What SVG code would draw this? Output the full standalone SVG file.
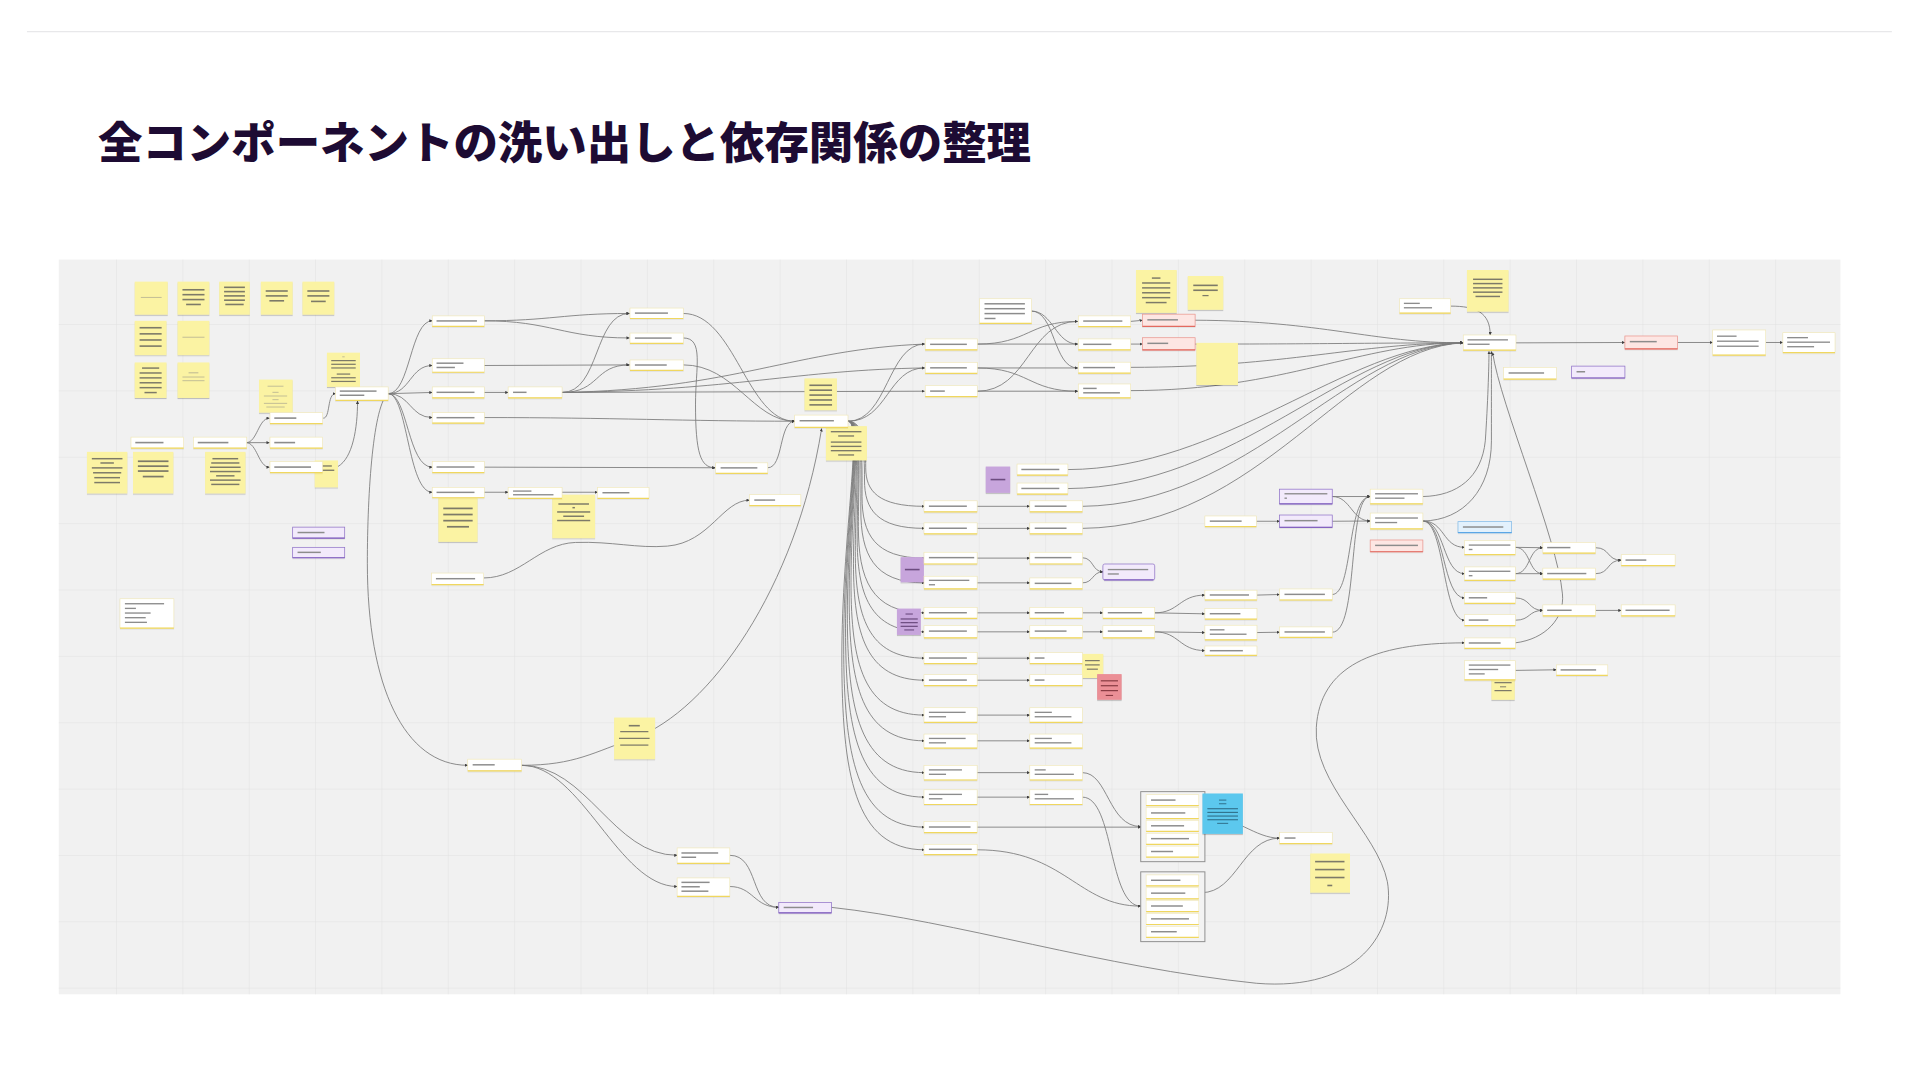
<svg xmlns="http://www.w3.org/2000/svg" width="1920" height="1080" viewBox="0 0 1920 1080">
<defs>
<style>
.cb{fill:#fff;stroke:#f2e9b6;stroke-width:.5}
.cy{stroke:#f0d75e;stroke-width:1;fill:none}
.br{fill:#8c8c8c}
.st{fill:#fbf3a3;filter:url(#sh)}
.sb{fill:#7d7a68}
.sf{fill:#c2bd95}
.ps{fill:#c7a5dc;filter:url(#sh)}
.psb{fill:#6d4c80}
.rs{fill:#eb8f96;filter:url(#sh)}
.rsb{fill:#8a3c44}
.bs{fill:#5cc8ee;filter:url(#sh)}
.bsb{fill:#2f6f8a}
.pc{fill:#f2eafb;stroke:#9275c9;stroke-width:.6}
.py{stroke:#8462c0;stroke-width:1;fill:none}
.rc{fill:#fde6e3;stroke:#ec9a92;stroke-width:.6}
.ry{stroke:#e36b60;stroke-width:1;fill:none}
.bc{fill:#e3f1fc;stroke:#86bdea;stroke-width:.6}
.by{stroke:#5aa6e6;stroke-width:1;fill:none}
.gf{fill:#f3f3f3;stroke:#8f8f8f;stroke-width:.8}
.e{fill:none;stroke:#7a7a7a;stroke-width:.7;marker-end:url(#ah)}
.en{fill:none;stroke:#7a7a7a;stroke-width:.7}
.card{filter:url(#sh2)}
</style>
<filter id="sh" x="-20%" y="-20%" width="140%" height="150%"><feDropShadow dx="0" dy="0.9" stdDeviation="0.6" flood-color="#000" flood-opacity="0.22"/></filter>
<filter id="sh2" x="-10%" y="-30%" width="120%" height="170%"><feDropShadow dx="0" dy="0.4" stdDeviation="0.4" flood-color="#000" flood-opacity="0.12"/></filter>
<marker id="ah" viewBox="0 0 6 6" refX="5.5" refY="3" markerWidth="2.6" markerHeight="2.6" markerUnits="userSpaceOnUse" orient="auto"><path d="M0,0 L6,3 L0,6 z" fill="#3f3f3f"/></marker>
<pattern id="grid" patternUnits="userSpaceOnUse" x="94.7" y="264.6" width="54.2" height="54.2"><path d="M0,0 H54.2 M0,0 V54.2" stroke="#e0e0e0" stroke-width="0.8" fill="none"/></pattern>
</defs>
<rect width="1920" height="1080" fill="#ffffff"/>
<g transform="scale(1.22449)">
<line x1="22" y1="25.8" x2="1545" y2="25.8" stroke="#e8e8ea" stroke-width="1"/>
<text x="80" y="129.5" font-family="'Noto Sans CJK JP','Noto Sans',sans-serif" font-size="36" font-weight="900" fill="#1d0b33" textLength="762" lengthAdjust="spacingAndGlyphs">全コンポーネントの洗い出しと依存関係の整理</text>
<rect x="48" y="212" width="1455" height="600" fill="#f1f1f1"/>
<rect x="48" y="212" width="1455" height="600" fill="url(#grid)"/>

<g id="connectors">
<path class="e" d="M201,361.5 C210,361.5 211,341.5 220,341.5"/>
<path class="e" d="M201,361.5 L220,361.5"/>
<path class="e" d="M201,361.5 C210,361.5 211,381.5 220,381.5"/>
<path class="e" d="M264,341.5 C270,341.5 267,321.5 274,321.5"/>
<path class="e" d="M276,381 C288,374 292,350 292,327.5"/>
<path class="e" d="M317,321.5 C335,321.5 335,262 353,262"/>
<path class="e" d="M317,321.5 C335,321.5 335,298.5 353,298.5"/>
<path class="e" d="M317,321.5 L353,320.5"/>
<path class="e" d="M317,321.5 C335,321.5 335,341 353,341"/>
<path class="e" d="M317,321.5 C333,321.5 333,381.5 353,381.5"/>
<path class="e" d="M317,321.5 C333,321.5 333,402 353,402"/>
<path class="e" d="M317,321.5 C305,330 300,400 300,460 C300,560 330,625 382,625"/>
<path class="e" d="M395,262 C450,262 460,256 514,256"/>
<path class="e" d="M395,262 C450,262 460,276 514,276"/>
<path class="e" d="M395,298.5 L514,298"/>
<path class="e" d="M395,320.5 L415,320.5"/>
<path class="e" d="M459,320.5 C490,320.5 485,256 514,256"/>
<path class="e" d="M459,320.5 C490,320.5 485,298 514,298"/>
<path class="e" d="M459,320.5 C600,318 650,285 755,281"/>
<path class="e" d="M459,320.5 C600,319 650,302 755,300.5"/>
<path class="e" d="M459,320.5 L755,319.5"/>
<path class="e" d="M395,341 C500,341 560,344 649,344"/>
<path class="e" d="M395,381.5 L584,382"/>
<path class="e" d="M558,256 C600,256 610,344 649,344"/>
<path class="e" d="M558,276 C575,276 568,300 568,330 C568,370 572,382 584,382"/>
<path class="e" d="M558,298 C600,298 615,344 649,344"/>
<path class="e" d="M627,382 C640,382 636,344 649,344"/>
<path class="e" d="M395,402 L415,402"/>
<path class="e" d="M459,402 L488,402"/>
<path class="e" d="M395,472 C425,472 440,444 470,443 C500,442 520,448 545,446 C580,443 590,408.5 612,408.5"/>
<path class="e" d="M426,625 C470,625 485,614 518,603 C580,580 650,480 671,350"/>
<path class="e" d="M426,625 C480,625 500,698.5 553,698.5"/>
<path class="e" d="M426,625 C475,625 505,724 553,724"/>
<path class="e" d="M596,698.5 C620,698.5 612,741 636,741"/>
<path class="e" d="M596,724 C615,724 616,741 636,741"/>
<path class="e" d="M679,741 C780,752 900,790 1026,803 C1110,810 1140,760 1133,720 C1125,680 1072,640 1075,594 C1078,545 1120,525 1196,525"/>
<path class="e" d="M692.5,344 C725,344 725,281 755,281"/>
<path class="e" d="M692.5,344 C725,344 725,300.5 755,300.5"/>
<path class="e" d="M692.5,344 C705,344 707,363 707,382 C707,401 717,413.5 755,413.5"/>
<path class="e" d="M692.5,344 C705,344 706,368 706,392 C706,416 716,431.5 755,431.5"/>
<path class="e" d="M692.5,344 C705,344 704,375 704,405.5 C704,436 714,455.8 755,455.8"/>
<path class="e" d="M692.5,344 C705,344 703,380 703,416.5 C703,452 713,476 755,476"/>
<path class="e" d="M692.5,344 C705,344 701,387 701,430 C701,472 711,500.5 755,500.5"/>
<path class="e" d="M692.5,344 C705,344 700,391 700,438.5 C700,485 710,516 755,516"/>
<path class="e" d="M692.5,344 C705,344 698.5,397 698.5,450.5 C698.5,502.5 708.5,537.5 755,537.5"/>
<path class="e" d="M692.5,344 C705,344 697,402 697,460 C697,517 707,555.5 755,555.5"/>
<path class="e" d="M692.5,344 C705,344 695,410 695,476 C695,541 705,584 755,584"/>
<path class="e" d="M692.5,344 C705,344 693.5,416 693.5,487.5 C693.5,558 703.5,605 755,605"/>
<path class="e" d="M692.5,344 C705,344 692,423 692,502 C692,579 702,631 755,631"/>
<path class="e" d="M692.5,344 C705,344 690.5,428 690.5,513 C690.5,596 700.5,651 755,651"/>
<path class="e" d="M692.5,344 C705,344 689,435 689,526 C689,616 699,675.5 755,675.5"/>
<path class="e" d="M692.5,344 C705,344 687.5,440 687.5,536.5 C687.5,631 697.5,694 755,694"/>
<path class="e" d="M798,281 C840,281 840,262.5 880,262.5"/>
<path class="e" d="M798,281 L880,281"/>
<path class="e" d="M798,300.5 L880,300.5"/>
<path class="e" d="M798,300.5 C840,300.5 840,319.5 880,319.5"/>
<path class="e" d="M798,319.5 C840,319.5 840,262.5 880,262.5"/>
<path class="e" d="M798,319.5 L880,319.5"/>
<path class="e" d="M842,254 C860,254 862,281 880,281"/>
<path class="e" d="M842,254 C862,254 860,300.5 880,300.5"/>
<path class="e" d="M923,262.5 L933,261.6"/>
<path class="e" d="M923,281 L933,281"/>
<path class="e" d="M976,261.5 C1080,262 1120,280 1195,280"/>
<path class="e" d="M976,281 C1080,281 1120,280 1195,280"/>
<path class="e" d="M923,300 C1050,300 1110,280 1195,280"/>
<path class="e" d="M923,319 C1050,319 1110,280 1195,280"/>
<path class="e" d="M872,383.5 C1000,383 1100,282 1195,280"/>
<path class="e" d="M872,399 C1010,398 1100,282 1195,280"/>
<path class="e" d="M884,413.5 C1020,412 1100,283 1195,280"/>
<path class="e" d="M884,431.5 C1030,430 1100,284 1195,280"/>
<path class="e" d="M798,413.5 L841,413.5"/>
<path class="e" d="M798,431.5 L841,431.5"/>
<path class="e" d="M798,455.8 L841,455.8"/>
<path class="e" d="M798,476 L841,476"/>
<path class="e" d="M798,500.5 L841,500.5"/>
<path class="e" d="M798,516 L841,516"/>
<path class="e" d="M798,537.5 L841,537.5"/>
<path class="e" d="M798,555.5 L841,555.5"/>
<path class="e" d="M798,584 L841,584"/>
<path class="e" d="M798,605 L841,605"/>
<path class="e" d="M798,631 L841,631"/>
<path class="e" d="M798,651 L841,651"/>
<path class="e" d="M884,455.5 C893,455.5 892,467 900.7,467"/>
<path class="e" d="M884,476 C893,476 892,467 900.7,467"/>
<path class="e" d="M884,500.5 L900.7,500.5"/>
<path class="e" d="M884,516 L900.7,516"/>
<path class="e" d="M943,500.5 C963,500.5 963,486 984,486"/>
<path class="e" d="M943,500.5 L984,501.3"/>
<path class="e" d="M943,516 L984,516.6"/>
<path class="e" d="M943,516 C963,516 963,531.3 984,531.3"/>
<path class="e" d="M1026.5,486 L1045,485.5"/>
<path class="e" d="M1026.5,516.6 L1045,516.3"/>
<path class="e" d="M1088,485.5 C1105,485.5 1100,405.5 1119,405.5"/>
<path class="e" d="M1088,516.3 C1110,516 1100,405.5 1119,405.5"/>
<path class="e" d="M1026,425.7 L1045,425.7"/>
<path class="e" d="M1088,405.5 L1119,405.5"/>
<path class="e" d="M1088,405.5 C1103,405.5 1104,425.5 1119,425.5"/>
<path class="e" d="M1088,425.7 L1119,425.5"/>
<path class="e" d="M1162,405.5 C1190,405 1210,390 1213,360 C1215,330 1216,300 1216,287"/>
<path class="e" d="M1162,425.5 C1195,425 1218,400 1218,360 C1218,320 1218,300 1218,287"/>
<path class="e" d="M1162,425.5 C1180,425.5 1178,447 1196,447"/>
<path class="e" d="M1162,425.5 C1180,425.5 1178,468.5 1196,468.5"/>
<path class="e" d="M1162,425.5 C1180,425.5 1178,488.3 1196,488.3"/>
<path class="e" d="M1162,425.5 C1180,425.5 1178,506.5 1196,506.5"/>
<path class="e" d="M1237.5,525 C1262,522 1278,505 1276,485 C1272,440 1225,330 1219,288"/>
<path class="e" d="M1237.5,447 L1260,447.3"/>
<path class="e" d="M1237.5,447 C1250,447 1248,468.5 1260,468.5"/>
<path class="e" d="M1237.5,468.5 C1250,468.5 1248,447.3 1260,447.3"/>
<path class="e" d="M1237.5,468.5 L1260,468.5"/>
<path class="e" d="M1303,447.3 C1315,447.3 1312,457.5 1324,457.5"/>
<path class="e" d="M1303,468.5 C1315,468.5 1312,457.5 1324,457.5"/>
<path class="e" d="M1237.5,488.3 C1250,488.3 1248,498.5 1260,498.5"/>
<path class="e" d="M1237.5,506.5 C1250,506.5 1248,498.5 1260,498.5"/>
<path class="e" d="M1303,498.5 L1324,498.5"/>
<path class="e" d="M1237.5,547.5 L1271,547"/>
<path class="e" d="M1184.7,250 C1205,250 1217,255 1217,273.6"/>
<path class="e" d="M1238,280 L1327,279.7"/>
<path class="e" d="M1370,279.7 L1398.7,279.7"/>
<path class="e" d="M1442,279.7 L1456,279.7"/>
<path class="e" d="M884,631 C905,631 905,675 931.6,675"/>
<path class="e" d="M798,675.5 L931.6,675.5"/>
<path class="e" d="M884,651 C910,651 905,740 931.6,740"/>
<path class="e" d="M798,694 C870,694 880,740 931.6,740"/>
<path class="e" d="M980,664 C1010,667 1025,684.5 1045,684.5"/>
<path class="e" d="M981.4,729 C1010,729 1015,684.5 1045,684.5"/>
</g>

<g id="stickies">
<g id="s1" transform="translate(110,230)"><rect class="st" width="27" height="27"/><rect class="sf" x="5" y="12.5" width="17" height="0.8"/></g>
<g id="s2" transform="translate(145,230)"><rect class="st" width="26" height="27"/><rect class="sb" x="4" y="6" width="18" height="1.3"/><rect class="sb" x="4" y="10" width="18" height="1.3"/><rect class="sb" x="4" y="14" width="18" height="1.3"/><rect class="sb" x="7" y="18" width="12" height="1.3"/></g>
<g id="s3" transform="translate(179,230)"><rect class="st" width="25" height="27"/><rect class="sb" x="4" y="4" width="17" height="1.3"/><rect class="sb" x="4" y="7.5" width="17" height="1.3"/><rect class="sb" x="4" y="11" width="17" height="1.3"/><rect class="sb" x="4" y="14.5" width="17" height="1.3"/><rect class="sb" x="5" y="18" width="15" height="1.3"/></g>
<g id="s4" transform="translate(213,230)"><rect class="st" width="26" height="27"/><rect class="sb" x="4" y="7" width="18" height="1.3"/><rect class="sb" x="4" y="11" width="18" height="1.3"/><rect class="sb" x="7" y="15" width="12" height="1.3"/></g>
<g id="s5" transform="translate(247,230)"><rect class="st" width="26" height="27"/><rect class="sb" x="4" y="7" width="18" height="1.3"/><rect class="sb" x="4" y="11" width="18" height="1.3"/><rect class="sb" x="7" y="15.5" width="12" height="1.3"/></g>
<g id="s6" transform="translate(110,262)"><rect class="st" width="26" height="28"/><rect class="sb" x="4" y="5" width="18" height="1.3"/><rect class="sb" x="4" y="10" width="18" height="1.3"/><rect class="sb" x="4" y="15" width="18" height="1.3"/><rect class="sb" x="4" y="20" width="18" height="1.3"/></g>
<g id="s7" transform="translate(145,262)"><rect class="st" width="26" height="28"/><rect class="sf" x="4" y="13" width="18" height="0.8"/></g>
<g id="s8" transform="translate(110,296)"><rect class="st" width="26" height="29"/><rect class="sb" x="6" y="4" width="14" height="1.2"/><rect class="sb" x="4" y="8" width="18" height="1.2"/><rect class="sb" x="4" y="12" width="18" height="1.2"/><rect class="sb" x="4" y="16" width="18" height="1.2"/><rect class="sb" x="4" y="20" width="18" height="1.2"/><rect class="sb" x="8" y="24" width="10" height="1.2"/></g>
<g id="s9" transform="translate(145,296)"><rect class="st" width="26" height="29"/><rect class="sf" x="9" y="8" width="8" height="0.9"/><rect class="sf" x="4" y="11.5" width="18" height="0.8"/><rect class="sf" x="4" y="14.5" width="18" height="0.8"/></g>
<g id="s10" transform="translate(71,369)"><rect class="st" width="33" height="34"/><rect class="sb" x="4" y="5" width="25" height="1.2"/><rect class="sb" x="11" y="8.5" width="11" height="1.2"/><rect class="sb" x="4" y="12.5" width="25" height="1.2"/><rect class="sb" x="5" y="16.5" width="23" height="1.2"/><rect class="sb" x="6" y="20.5" width="21" height="1.2"/><rect class="sb" x="6" y="24.5" width="21" height="1.2"/></g>
<g id="s11" transform="translate(108.6,369)"><rect class="st" width="33" height="34"/><rect class="sb" x="4" y="7" width="25" height="1.4"/><rect class="sb" x="4" y="11" width="25" height="1.4"/><rect class="sb" x="4" y="15" width="25" height="1.4"/><rect class="sb" x="8" y="19.5" width="17" height="1.4"/></g>
<g id="s12" transform="translate(167.5,369)"><rect class="st" width="33" height="34"/><rect class="sb" x="6" y="5" width="21" height="1.2"/><rect class="sb" x="5" y="8.5" width="23" height="1.2"/><rect class="sb" x="4" y="12" width="25" height="1.2"/><rect class="sb" x="4" y="15.5" width="25" height="1.2"/><rect class="sb" x="9" y="19" width="15" height="1.2"/><rect class="sb" x="4" y="22.5" width="25" height="1.2"/><rect class="sb" x="5" y="26" width="23" height="1.2"/></g>
<g id="s13" transform="translate(211.5,310)"><rect class="st" width="27.5" height="27"/><rect class="sf" x="7" y="5" width="13" height="0.8"/><rect class="sf" x="11" y="10" width="5" height="0.8"/><rect class="sf" x="4" y="13" width="19" height="0.8"/><rect class="sf" x="11" y="16" width="5" height="0.8"/><rect class="sf" x="4" y="19" width="19" height="0.8"/><rect class="sf" x="6" y="22" width="15" height="0.8"/></g>
<g id="s14" transform="translate(257,376)"><rect class="st" width="19" height="22"/><rect class="sb" x="5" y="4" width="9" height="1.1"/><rect class="sb" x="3" y="7.5" width="13" height="1.1"/></g>
<g id="s15" transform="translate(267,288)"><rect class="st" width="27" height="28"/><rect class="sf" x="12.5" y="3" width="2" height="0.8"/><rect class="sb" x="3.5" y="6" width="20" height="1"/><rect class="sb" x="3.5" y="9" width="20" height="1"/><rect class="sb" x="3.5" y="12" width="20" height="1"/><rect class="sb" x="8" y="17" width="11" height="1"/><rect class="sb" x="3.5" y="20" width="20" height="1"/><rect class="sb" x="3.5" y="23" width="20" height="1"/></g>
<g id="s16" transform="translate(358,406.5)"><rect class="st" width="32" height="36"/><rect class="sb" x="4" y="8" width="24" height="1.4"/><rect class="sb" x="4" y="13" width="24" height="1.4"/><rect class="sb" x="4" y="18" width="24" height="1.4"/><rect class="sb" x="7" y="23" width="18" height="1.4"/></g>
<g id="s17" transform="translate(451,404)"><rect class="st" width="35" height="35.5"/><rect class="sb" x="5" y="7" width="25" height="1.2"/><rect class="sb" x="16.5" y="10" width="2" height="1.2"/><rect class="sb" x="4" y="13.5" width="27" height="1.2"/><rect class="sb" x="9" y="17" width="17" height="1.2"/><rect class="sb" x="4" y="20.5" width="27" height="1.2"/></g>
<g id="s18" transform="translate(501.5,586)"><rect class="st" width="33.5" height="34"/><rect class="sb" x="12" y="6" width="9" height="1.3"/><rect class="sb" x="5" y="11" width="23" height="1"/><rect class="sb" x="4" y="16.5" width="25" height="1"/><rect class="sb" x="5" y="22" width="23" height="1"/></g>
<g id="s19" transform="translate(657,309)"><rect class="st" width="26.5" height="26"/><rect class="sb" x="4" y="5" width="18.5" height="1.3"/><rect class="sb" x="4" y="9" width="18.5" height="1.3"/><rect class="sb" x="4" y="13" width="18.5" height="1.3"/><rect class="sb" x="4" y="17" width="18.5" height="1.3"/><rect class="sb" x="4" y="21" width="18.5" height="1.3"/></g>
<g id="s20" transform="translate(674.5,348)"><rect class="st" width="33.5" height="28"/><rect class="sb" x="4" y="4" width="25" height="1.1"/><rect class="sb" x="10" y="7.5" width="13" height="1.1"/><rect class="sb" x="4" y="12.5" width="25" height="1.1"/><rect class="sb" x="4" y="16" width="25" height="1.1"/><rect class="sb" x="4" y="19.5" width="25" height="1.1"/><rect class="sb" x="10" y="23" width="13" height="1.1"/></g>
<g id="s21" transform="translate(927.7,220.5)"><rect class="st" width="33.3" height="35"/><rect class="sb" x="13" y="6" width="7" height="1.2"/><rect class="sb" x="5" y="10" width="23" height="1.2"/><rect class="sb" x="5" y="14" width="23" height="1.2"/><rect class="sb" x="5" y="18" width="23" height="1.2"/><rect class="sb" x="5" y="22" width="23" height="1.2"/><rect class="sb" x="8" y="26" width="17" height="1.2"/></g>
<g id="s22" transform="translate(970,225.4)"><rect class="st" width="29" height="27.6"/><rect class="sb" x="4.5" y="7" width="20" height="1.3"/><rect class="sb" x="4.5" y="11" width="20" height="1.3"/><rect class="sb" x="12" y="15.5" width="5" height="1"/></g>
<g id="s23" transform="translate(977,280)"><rect class="st" width="34" height="34.4"/></g>
<g id="s24" transform="translate(1198,220.5)"><rect class="st" width="34" height="34"/><rect class="sb" x="5" y="7" width="24" height="1.2"/><rect class="sb" x="5" y="10.5" width="24" height="1.2"/><rect class="sb" x="5" y="14" width="24" height="1.2"/><rect class="sb" x="5" y="17.5" width="24" height="1.2"/><rect class="sb" x="7" y="21" width="20" height="1.2"/></g>
<g id="s25" transform="translate(883.6,534)"><rect class="st" width="17.4" height="19.7"/><rect class="sb" x="2.5" y="5" width="12" height="1"/><rect class="sb" x="2.5" y="8.5" width="12" height="1"/><rect class="sb" x="4" y="12" width="9" height="1"/></g>
<g id="s26" transform="translate(1218,550.5)"><rect class="st" width="19" height="21"/><rect class="sb" x="2.5" y="3" width="14" height="1"/><rect class="sb" x="2.5" y="6.5" width="14" height="1"/><rect class="sb" x="7" y="10" width="5" height="0.8"/><rect class="sb" x="2.5" y="13" width="14" height="1"/></g>
<g id="s27" transform="translate(1070,697)"><rect class="st" width="32.5" height="32"/><rect class="sb" x="4" y="6" width="24" height="1.3"/><rect class="sb" x="4" y="12.5" width="24" height="1.3"/><rect class="sb" x="4" y="19" width="24" height="1.3"/><rect class="sb" x="14" y="25.5" width="4" height="1.3"/></g>
<g id="ps1" transform="translate(805,381)"><rect class="ps" width="20" height="21.5"/><rect class="psb" x="4" y="10" width="12" height="1.3"/></g>
<g id="ps2" transform="translate(735.5,455)"><rect class="ps" width="19" height="20.5"/><rect class="psb" x="3.5" y="9.5" width="12" height="1.3"/></g>
<g id="ps3" transform="translate(732.5,497)"><rect class="ps" width="19.5" height="21.5"/><rect class="psb" x="7" y="4" width="6" height="0.9"/><rect class="psb" x="3" y="8" width="14" height="1"/><rect class="psb" x="3" y="11" width="14" height="1"/><rect class="psb" x="3" y="14" width="14" height="1"/><rect class="psb" x="6" y="17" width="8" height="0.9"/></g>
<g id="rs1" transform="translate(896,550.5)"><rect class="rs" width="20" height="21"/><rect class="rsb" x="3" y="5" width="14" height="1"/><rect class="rsb" x="3" y="9" width="14" height="1"/><rect class="rsb" x="3" y="13" width="14" height="1"/><rect class="rsb" x="7" y="17" width="6" height="0.9"/></g>
</g>

<g id="cards">
<g id="C1" class="card" transform="translate(107,357)"><rect class="cb" width="43" height="9"/><path class="cy" d="M0,9H43"/><rect class="br" x="3.5" y="3.8" width="23" height="1.3"/></g>
<g id="C2" class="card" transform="translate(158,357)"><rect class="cb" width="43.5" height="9"/><path class="cy" d="M0,9H43.5"/><rect class="br" x="3.5" y="3.8" width="25" height="1.3"/></g>
<g id="C3" class="card" transform="translate(220.5,337)"><rect class="cb" width="43" height="9"/><path class="cy" d="M0,9H43"/><rect class="br" x="3.5" y="3.8" width="18" height="1.3"/></g>
<g id="C4" class="card" transform="translate(220.5,357)"><rect class="cb" width="43" height="9"/><path class="cy" d="M0,9H43"/><rect class="br" x="3.5" y="3.8" width="17" height="1.3"/></g>
<g id="C5" class="card" transform="translate(220.5,377)"><rect class="cb" width="43" height="9"/><path class="cy" d="M0,9H43"/><rect class="br" x="3.5" y="3.8" width="30" height="1.3"/></g>
<g id="hub1" class="card" transform="translate(274,316)"><rect class="cb" width="43" height="11"/><path class="cy" d="M0,11H43"/><rect class="br" x="3.5" y="2.8" width="30" height="1.2"/><rect class="br" x="3.5" y="6.2" width="20" height="1.2"/></g>
<g id="N1a" class="card" transform="translate(353,258)"><rect class="cb" width="42.5" height="8.5"/><path class="cy" d="M0,8.5H42.5"/><rect class="br" x="3.5" y="3.5" width="33" height="1.2"/></g>
<g id="N1b" class="card" transform="translate(353,293)"><rect class="cb" width="42.5" height="11"/><path class="cy" d="M0,11H42.5"/><rect class="br" x="3.5" y="3" width="22" height="1.2"/><rect class="br" x="3.5" y="6.5" width="15" height="1.2"/></g>
<g id="N1c" class="card" transform="translate(353,316)"><rect class="cb" width="42.5" height="9"/><path class="cy" d="M0,9H42.5"/><rect class="br" x="3.5" y="3.8" width="31" height="1.2"/></g>
<g id="N1d" class="card" transform="translate(353,337)"><rect class="cb" width="42.5" height="8.5"/><path class="cy" d="M0,8.5H42.5"/><rect class="br" x="3.5" y="3.5" width="31" height="1.2"/></g>
<g id="N1e" class="card" transform="translate(353,377)"><rect class="cb" width="42.5" height="9"/><path class="cy" d="M0,9H42.5"/><rect class="br" x="3.5" y="3.8" width="31" height="1.2"/></g>
<g id="N1f" class="card" transform="translate(353,398)"><rect class="cb" width="42.5" height="8.5"/><path class="cy" d="M0,8.5H42.5"/><rect class="br" x="3.5" y="3.5" width="31" height="1.2"/></g>
<g id="N2c" class="card" transform="translate(415,316)"><rect class="cb" width="44" height="9"/><path class="cy" d="M0,9H44"/><rect class="br" x="4" y="3.8" width="11" height="1.2"/></g>
<g id="N2f" class="card" transform="translate(415,398)"><rect class="cb" width="44" height="9"/><path class="cy" d="M0,9H44"/><rect class="br" x="4" y="2.5" width="15" height="1.1"/><rect class="br" x="4" y="5.5" width="33" height="1.1"/></g>
<g id="N3f" class="card" transform="translate(488,398)"><rect class="cb" width="42" height="9"/><path class="cy" d="M0,9H42"/><rect class="br" x="4" y="3.8" width="22" height="1.2"/></g>
<g id="M1" class="card" transform="translate(514.5,251.6)"><rect class="cb" width="43.5" height="8.5"/><path class="cy" d="M0,8.5H43.5"/><rect class="br" x="4" y="3.5" width="27" height="1.2"/></g>
<g id="M2" class="card" transform="translate(514.5,272)"><rect class="cb" width="43.5" height="8.5"/><path class="cy" d="M0,8.5H43.5"/><rect class="br" x="4" y="3.5" width="30" height="1.2"/></g>
<g id="M3" class="card" transform="translate(514.5,294)"><rect class="cb" width="43.5" height="8.5"/><path class="cy" d="M0,8.5H43.5"/><rect class="br" x="4" y="3.5" width="26" height="1.2"/></g>
<g id="M4" class="card" transform="translate(584.5,378)"><rect class="cb" width="42.5" height="8.5"/><path class="cy" d="M0,8.5H42.5"/><rect class="br" x="4" y="3.5" width="30" height="1.2"/></g>
<g id="M5" class="card" transform="translate(612,404)"><rect class="cb" width="42" height="9"/><path class="cy" d="M0,9H42"/><rect class="br" x="4" y="3.8" width="17" height="1.2"/></g>
<g id="N_low" class="card" transform="translate(352.5,468)"><rect class="cb" width="42.5" height="9.5"/><path class="cy" d="M0,9.5H42.5"/><rect class="br" x="3.5" y="4" width="32" height="1.2"/></g>
<g id="N_bot1" class="card" transform="translate(382,620)"><rect class="cb" width="44" height="9.5"/><path class="cy" d="M0,9.5H44"/><rect class="br" x="4" y="4" width="18" height="1.2"/></g>
<g id="B1" class="card" transform="translate(553,692.5)"><rect class="cb" width="43" height="12.5"/><path class="cy" d="M0,12.5H43"/><rect class="br" x="3.5" y="3.5" width="30" height="1.2"/><rect class="br" x="3.5" y="7" width="12" height="1.2"/></g>
<g id="B2" class="card" transform="translate(553,717)"><rect class="cb" width="43" height="15"/><path class="cy" d="M0,15H43"/><rect class="br" x="3.5" y="3" width="23" height="1.2"/><rect class="br" x="3.5" y="6.6" width="15" height="1.2"/><rect class="br" x="3.5" y="10.2" width="22" height="1.2"/></g>
<g id="Cbl" class="card" transform="translate(98,489)"><rect class="cb" width="44" height="24"/><path class="cy" d="M0,24H44"/><rect class="br" x="4" y="3.5" width="32" height="1.1"/><rect class="br" x="4" y="7.3" width="9" height="1.1"/><rect class="br" x="4" y="11.1" width="21" height="1.1"/><rect class="br" x="4" y="14.9" width="17" height="1.1"/><rect class="br" x="4" y="18.7" width="18" height="1.1"/></g>
<g id="hub2" class="card" transform="translate(649,339)"><rect class="cb" width="43.5" height="10"/><path class="cy" d="M0,10H43.5"/><rect class="br" x="4" y="4" width="28" height="1.2"/></g>
<g id="P1" class="card" transform="translate(755.6,276.8)"><rect class="cb" width="42.5" height="9"/><path class="cy" d="M0,9H42.5"/><rect class="br" x="4" y="3.8" width="30" height="1.2"/></g>
<g id="P2" class="card" transform="translate(755.6,296)"><rect class="cb" width="42.5" height="9"/><path class="cy" d="M0,9H42.5"/><rect class="br" x="4" y="3.8" width="30" height="1.2"/></g>
<g id="P3" class="card" transform="translate(755.6,315)"><rect class="cb" width="42.5" height="9"/><path class="cy" d="M0,9H42.5"/><rect class="br" x="4" y="3.8" width="12" height="1.2"/></g>
<g id="O" class="card" transform="translate(800,244)"><rect class="cb" width="42.5" height="20"/><path class="cy" d="M0,20H42.5"/><rect class="br" x="4" y="3.5" width="33" height="1.2"/><rect class="br" x="4" y="7.5" width="33" height="1.2"/><rect class="br" x="4" y="11.5" width="33" height="1.2"/><rect class="br" x="4" y="15.5" width="9" height="1.2"/></g>
<g id="Q1" class="card" transform="translate(880.6,258)"><rect class="cb" width="42.8" height="8.8"/><path class="cy" d="M0,8.8H42.8"/><rect class="br" x="4" y="3.6" width="32" height="1.2"/></g>
<g id="Q2" class="card" transform="translate(880.6,276.8)"><rect class="cb" width="42.8" height="9"/><path class="cy" d="M0,9H42.8"/><rect class="br" x="4" y="3.8" width="23" height="1.2"/></g>
<g id="Q3" class="card" transform="translate(880.6,295.8)"><rect class="cb" width="42.8" height="9"/><path class="cy" d="M0,9H42.8"/><rect class="br" x="4" y="3.8" width="26" height="1.2"/></g>
<g id="Q4" class="card" transform="translate(880.6,313.6)"><rect class="cb" width="42.8" height="11.4"/><path class="cy" d="M0,11.4H42.8"/><rect class="br" x="4" y="3" width="11" height="1.2"/><rect class="br" x="4" y="6.6" width="30" height="1.2"/></g>
<g id="Pb1" class="card" transform="translate(830.6,379)"><rect class="cb" width="41.5" height="9"/><path class="cy" d="M0,9H41.5"/><rect class="br" x="3.5" y="3.8" width="31" height="1.2"/></g>
<g id="Pb2" class="card" transform="translate(830.6,394.5)"><rect class="cb" width="41.5" height="9"/><path class="cy" d="M0,9H41.5"/><rect class="br" x="3.5" y="3.8" width="31" height="1.2"/></g>
<g id="Ca1" class="card" transform="translate(754.6,409)"><rect class="cb" width="43.4" height="9"/><path class="cy" d="M0,9H43.4"/><rect class="br" x="4" y="3.8" width="31" height="1.2"/></g>
<g id="Ca2" class="card" transform="translate(754.6,427)"><rect class="cb" width="43.4" height="9"/><path class="cy" d="M0,9H43.4"/><rect class="br" x="4" y="3.8" width="31" height="1.2"/></g>
<g id="Ca3" class="card" transform="translate(754.6,451)"><rect class="cb" width="43.4" height="9.6"/><path class="cy" d="M0,9.6H43.4"/><rect class="br" x="4" y="3.8" width="37" height="1.2"/></g>
<g id="Ca4" class="card" transform="translate(754.6,470.6)"><rect class="cb" width="43.4" height="10.4"/><path class="cy" d="M0,10.4H43.4"/><rect class="br" x="4" y="2.8" width="33" height="1.1"/><rect class="br" x="4" y="6.4" width="5" height="1.1"/></g>
<g id="Ca5" class="card" transform="translate(754.6,496)"><rect class="cb" width="43.4" height="9"/><path class="cy" d="M0,9H43.4"/><rect class="br" x="4" y="3.8" width="31" height="1.2"/></g>
<g id="Ca6" class="card" transform="translate(754.6,511)"><rect class="cb" width="43.4" height="10"/><path class="cy" d="M0,10H43.4"/><rect class="br" x="4" y="3.8" width="31" height="1.2"/></g>
<g id="Ca7" class="card" transform="translate(754.6,533)"><rect class="cb" width="43.4" height="9"/><path class="cy" d="M0,9H43.4"/><rect class="br" x="4" y="3.8" width="31" height="1.2"/></g>
<g id="Ca8" class="card" transform="translate(754.6,551)"><rect class="cb" width="43.4" height="9"/><path class="cy" d="M0,9H43.4"/><rect class="br" x="4" y="3.8" width="31" height="1.2"/></g>
<g id="Ca9" class="card" transform="translate(754.6,578)"><rect class="cb" width="43.4" height="12"/><path class="cy" d="M0,12H43.4"/><rect class="br" x="4" y="3.2" width="30" height="1.1"/><rect class="br" x="4" y="6.8" width="14" height="1.1"/></g>
<g id="Ca10" class="card" transform="translate(754.6,599.5)"><rect class="cb" width="43.4" height="11.5"/><path class="cy" d="M0,11.5H43.4"/><rect class="br" x="4" y="3" width="30" height="1.1"/><rect class="br" x="4" y="6.6" width="14" height="1.1"/></g>
<g id="Ca11" class="card" transform="translate(754.6,625)"><rect class="cb" width="43.4" height="12"/><path class="cy" d="M0,12H43.4"/><rect class="br" x="4" y="3.2" width="27" height="1.1"/><rect class="br" x="4" y="6.8" width="14" height="1.1"/></g>
<g id="Ca12" class="card" transform="translate(754.6,645)"><rect class="cb" width="43.4" height="12"/><path class="cy" d="M0,12H43.4"/><rect class="br" x="4" y="3.2" width="27" height="1.1"/><rect class="br" x="4" y="6.8" width="11" height="1.1"/></g>
<g id="Ca13" class="card" transform="translate(754.6,671)"><rect class="cb" width="43.4" height="9"/><path class="cy" d="M0,9H43.4"/><rect class="br" x="4" y="3.8" width="34" height="1.2"/></g>
<g id="Ca14" class="card" transform="translate(754.6,689.5)"><rect class="cb" width="43.4" height="8.5"/><path class="cy" d="M0,8.5H43.4"/><rect class="br" x="4" y="3.5" width="35" height="1.2"/></g>
<g id="Cb1" class="card" transform="translate(841,409)"><rect class="cb" width="43" height="9"/><path class="cy" d="M0,9H43"/><rect class="br" x="4" y="3.8" width="26" height="1.2"/></g>
<g id="Cb2" class="card" transform="translate(841,427)"><rect class="cb" width="43" height="9"/><path class="cy" d="M0,9H43"/><rect class="br" x="4" y="3.8" width="26" height="1.2"/></g>
<g id="Cb3" class="card" transform="translate(841,451)"><rect class="cb" width="43" height="9.6"/><path class="cy" d="M0,9.6H43"/><rect class="br" x="4" y="3.8" width="30" height="1.2"/></g>
<g id="Cb4" class="card" transform="translate(841,472)"><rect class="cb" width="43" height="9"/><path class="cy" d="M0,9H43"/><rect class="br" x="4" y="3.8" width="30" height="1.2"/></g>
<g id="Cb5" class="card" transform="translate(841,496)"><rect class="cb" width="43" height="9"/><path class="cy" d="M0,9H43"/><rect class="br" x="4" y="3.8" width="24" height="1.2"/></g>
<g id="Cb6" class="card" transform="translate(841,511)"><rect class="cb" width="43" height="10"/><path class="cy" d="M0,10H43"/><rect class="br" x="4" y="3.8" width="26" height="1.2"/></g>
<g id="Cb7" class="card" transform="translate(841,533)"><rect class="cb" width="43" height="9"/><path class="cy" d="M0,9H43"/><rect class="br" x="4" y="3.8" width="8" height="1.2"/></g>
<g id="Cb8" class="card" transform="translate(841,551)"><rect class="cb" width="43" height="9"/><path class="cy" d="M0,9H43"/><rect class="br" x="4" y="3.8" width="8" height="1.2"/></g>
<g id="Cb9" class="card" transform="translate(841,578)"><rect class="cb" width="43" height="12"/><path class="cy" d="M0,12H43"/><rect class="br" x="4" y="3.2" width="14" height="1.1"/><rect class="br" x="4" y="6.8" width="30" height="1.1"/></g>
<g id="Cb10" class="card" transform="translate(841,599.5)"><rect class="cb" width="43" height="11.5"/><path class="cy" d="M0,11.5H43"/><rect class="br" x="4" y="3" width="14" height="1.1"/><rect class="br" x="4" y="6.6" width="30" height="1.1"/></g>
<g id="Cb11" class="card" transform="translate(841,625)"><rect class="cb" width="43" height="12"/><path class="cy" d="M0,12H43"/><rect class="br" x="4" y="3.2" width="9" height="1.1"/><rect class="br" x="4" y="6.8" width="32" height="1.1"/></g>
<g id="Cb12" class="card" transform="translate(841,645)"><rect class="cb" width="43" height="12"/><path class="cy" d="M0,12H43"/><rect class="br" x="4" y="3.2" width="11" height="1.1"/><rect class="br" x="4" y="6.8" width="32" height="1.1"/></g>
<g id="Cc5" class="card" transform="translate(900.7,496)"><rect class="cb" width="42.3" height="9"/><path class="cy" d="M0,9H42.3"/><rect class="br" x="4" y="3.8" width="28" height="1.2"/></g>
<g id="Cc6" class="card" transform="translate(900.7,511)"><rect class="cb" width="42.3" height="10"/><path class="cy" d="M0,10H42.3"/><rect class="br" x="4" y="3.8" width="28" height="1.2"/></g>
<g id="Dd1" class="card" transform="translate(984,482)"><rect class="cb" width="42.5" height="8"/><path class="cy" d="M0,8H42.5"/><rect class="br" x="4" y="3.3" width="32" height="1.2"/></g>
<g id="Dd2" class="card" transform="translate(984,497)"><rect class="cb" width="42.5" height="8.7"/><path class="cy" d="M0,8.7H42.5"/><rect class="br" x="4" y="3.6" width="25" height="1.2"/></g>
<g id="Dd3" class="card" transform="translate(984,510.6)"><rect class="cb" width="42.5" height="12"/><path class="cy" d="M0,12H42.5"/><rect class="br" x="4" y="3.2" width="12" height="1.1"/><rect class="br" x="4" y="6.8" width="30" height="1.1"/></g>
<g id="Dd4" class="card" transform="translate(984,527.6)"><rect class="cb" width="42.5" height="7.6"/><path class="cy" d="M0,7.6H42.5"/><rect class="br" x="4" y="3.2" width="27" height="1.2"/></g>
<g id="E1" class="card" transform="translate(1045,481)"><rect class="cb" width="43" height="9"/><path class="cy" d="M0,9H43"/><rect class="br" x="4" y="3.8" width="33" height="1.2"/></g>
<g id="E2" class="card" transform="translate(1045,512)"><rect class="cb" width="43" height="8.5"/><path class="cy" d="M0,8.5H43"/><rect class="br" x="4" y="3.5" width="33" height="1.2"/></g>
<g id="V0" class="card" transform="translate(984,421.4)"><rect class="cb" width="42" height="8.6"/><path class="cy" d="M0,8.6H42"/><rect class="br" x="4" y="3.6" width="26" height="1.2"/></g>
<g id="W1" class="card" transform="translate(1119,399.5)"><rect class="cb" width="43" height="12"/><path class="cy" d="M0,12H43"/><rect class="br" x="4" y="3.2" width="35" height="1.1"/><rect class="br" x="4" y="6.8" width="24" height="1.1"/></g>
<g id="W2" class="card" transform="translate(1119,419)"><rect class="cb" width="43" height="13"/><path class="cy" d="M0,13H43"/><rect class="br" x="4" y="3.5" width="35" height="1.1"/><rect class="br" x="4" y="7.2" width="18" height="1.1"/></g>
<g id="T1" class="card" transform="translate(1196,441.6)"><rect class="cb" width="41.5" height="11.4"/><path class="cy" d="M0,11.4H41.5"/><rect class="br" x="3.5" y="3" width="34" height="1.1"/><rect class="br" x="3.5" y="6.6" width="3" height="1.1"/></g>
<g id="T2" class="card" transform="translate(1196,463)"><rect class="cb" width="41.5" height="11"/><path class="cy" d="M0,11H41.5"/><rect class="br" x="3.5" y="3" width="34" height="1.1"/><rect class="br" x="3.5" y="6.6" width="3" height="1.1"/></g>
<g id="T3" class="card" transform="translate(1196,484)"><rect class="cb" width="41.5" height="8.7"/><path class="cy" d="M0,8.7H41.5"/><rect class="br" x="3.5" y="3.6" width="15" height="1.2"/></g>
<g id="T4" class="card" transform="translate(1196,502)"><rect class="cb" width="41.5" height="9"/><path class="cy" d="M0,9H41.5"/><rect class="br" x="3.5" y="3.8" width="16" height="1.2"/></g>
<g id="T5" class="card" transform="translate(1196,521)"><rect class="cb" width="41.5" height="8.5"/><path class="cy" d="M0,8.5H41.5"/><rect class="br" x="3.5" y="3.5" width="26" height="1.2"/></g>
<g id="T6" class="card" transform="translate(1196,539.6)"><rect class="cb" width="41.5" height="15.7"/><path class="cy" d="M0,15.7H41.5"/><rect class="br" x="3.5" y="3" width="34" height="1.1"/><rect class="br" x="3.5" y="6.6" width="24" height="1.1"/><rect class="br" x="3.5" y="10.2" width="13" height="1.1"/></g>
<g id="X1" class="card" transform="translate(1260,443)"><rect class="cb" width="43" height="8.7"/><path class="cy" d="M0,8.7H43"/><rect class="br" x="3.5" y="3.6" width="19" height="1.2"/></g>
<g id="X2" class="card" transform="translate(1260,464)"><rect class="cb" width="43" height="9"/><path class="cy" d="M0,9H43"/><rect class="br" x="3.5" y="3.8" width="32" height="1.2"/></g>
<g id="X3" class="card" transform="translate(1260,494)"><rect class="cb" width="43" height="9"/><path class="cy" d="M0,9H43"/><rect class="br" x="3.5" y="3.8" width="20" height="1.2"/></g>
<g id="Y1" class="card" transform="translate(1324,453)"><rect class="cb" width="44" height="9"/><path class="cy" d="M0,9H44"/><rect class="br" x="3.5" y="3.8" width="17" height="1.2"/></g>
<g id="Y2" class="card" transform="translate(1324,494)"><rect class="cb" width="44" height="9"/><path class="cy" d="M0,9H44"/><rect class="br" x="3.5" y="3.8" width="36" height="1.2"/></g>
<g id="Zc" class="card" transform="translate(1271,543)"><rect class="cb" width="42" height="8.5"/><path class="cy" d="M0,8.5H42"/><rect class="br" x="3.5" y="3.5" width="29" height="1.2"/></g>
<g id="H0" class="card" transform="translate(1143,244)"><rect class="cb" width="41.7" height="11.7"/><path class="cy" d="M0,11.7H41.7"/><rect class="br" x="3.5" y="3.2" width="13" height="1.1"/><rect class="br" x="3.5" y="6.8" width="23" height="1.1"/></g>
<g id="hub3" class="card" transform="translate(1195,273.6)"><rect class="cb" width="43" height="12.4"/><path class="cy" d="M0,12.4H43"/><rect class="br" x="3.5" y="3.4" width="33" height="1.1"/><rect class="br" x="3.5" y="7" width="18" height="1.1"/></g>
<g id="J1" class="card" transform="translate(1398.7,269.5)"><rect class="cb" width="43.3" height="20.5"/><path class="cy" d="M0,20.5H43.3"/><rect class="br" x="3.5" y="4.5" width="16" height="1.1"/><rect class="br" x="3.5" y="8.6" width="34" height="1.1"/><rect class="br" x="3.5" y="12.7" width="34" height="1.1"/></g>
<g id="J2" class="card" transform="translate(1456,271.7)"><rect class="cb" width="42.6" height="16.3"/><path class="cy" d="M0,16.3H42.6"/><rect class="br" x="3.5" y="3.5" width="17" height="1.1"/><rect class="br" x="3.5" y="7.2" width="35" height="1.1"/><rect class="br" x="3.5" y="10.9" width="22" height="1.1"/></g>
<g id="K1" class="card" transform="translate(1228,300)"><rect class="cb" width="43" height="9.6"/><path class="cy" d="M0,9.6H43"/><rect class="br" x="4" y="4" width="29" height="1.2"/></g>
<g id="Fc" class="card" transform="translate(1045,680)"><rect class="cb" width="43" height="9"/><path class="cy" d="M0,9H43"/><rect class="br" x="4" y="3.8" width="9" height="1.2"/></g>
<g id="pc1" class="card" transform="translate(239,430.5)"><rect class="pc" width="42.5" height="9"/><path class="py" d="M0,9H42.5"/><rect class="br" x="4" y="3.8" width="22" height="1.2"/></g>
<g id="pc2" class="card" transform="translate(239,447)"><rect class="pc" width="42.5" height="8.5"/><path class="py" d="M0,8.5H42.5"/><rect class="br" x="4" y="3.5" width="19" height="1.2"/></g>
<g id="R" class="card" transform="translate(636,737)"><rect class="pc" width="43" height="8.5"/><path class="py" d="M0,8.5H43"/><rect class="br" x="4" y="3.5" width="24" height="1.2"/></g>
<g id="pc3" class="card" transform="translate(900.7,460.6)"><rect class="pc" width="42.3" height="13" rx="1.5"/><path class="py" d="M1,13H41.3"/><rect class="br" x="4" y="4" width="33" height="1.1"/><rect class="br" x="4" y="7.6" width="9" height="1.1"/></g>
<g id="U1" class="card" transform="translate(1045,399.5)"><rect class="pc" width="43" height="12"/><path class="py" d="M0,12H43"/><rect class="br" x="4" y="3.2" width="35" height="1.1"/><rect class="br" x="4" y="6.8" width="2" height="1.1"/></g>
<g id="U2" class="card" transform="translate(1045,420.6)"><rect class="pc" width="43" height="10"/><path class="py" d="M0,10H43"/><rect class="br" x="4" y="4" width="27" height="1.2"/></g>
<g id="K2" class="card" transform="translate(1283.5,299)"><rect class="pc" width="43.5" height="9.7"/><path class="py" d="M0,9.7H43.5"/><rect class="br" x="4" y="4" width="7" height="1.2"/></g>
<g id="R1" class="card" transform="translate(933,256.6)"><rect class="rc" width="43" height="10"/><path class="ry" d="M0,10H43"/><rect class="br" x="4" y="4" width="25" height="1.2"/></g>
<g id="R2" class="card" transform="translate(933,275.8)"><rect class="rc" width="43" height="10"/><path class="ry" d="M0,10H43"/><rect class="br" x="4" y="4" width="17" height="1.2"/></g>
<g id="W3" class="card" transform="translate(1119,441)"><rect class="rc" width="43" height="9.6"/><path class="ry" d="M0,9.6H43"/><rect class="br" x="4" y="3.8" width="35" height="1.2"/></g>
<g id="red3" class="card" transform="translate(1327,274.4)"><rect class="rc" width="43" height="10.6"/><path class="ry" d="M0,10.6H43"/><rect class="br" x="4" y="4" width="22" height="1.2"/></g>
<g id="blue1" class="card" transform="translate(1190.7,426)"><rect class="bc" width="43.8" height="9"/><path class="by" d="M0,9H43.8"/><rect class="br" x="4" y="3.8" width="33" height="1.2"/></g>
<g id="G1" transform="translate(931.6,646.5)"><rect class="gf" width="52.4" height="57.2"/>
<g transform="translate(4.4,2.5)"><rect class="cb" width="43" height="9"/><path class="cy" d="M0,9H43"/><rect class="br" x="4" y="3.8" width="20" height="1.2"/></g>
<g transform="translate(4.4,13)"><rect class="cb" width="43" height="9"/><path class="cy" d="M0,9H43"/><rect class="br" x="4" y="3.8" width="28" height="1.2"/></g>
<g transform="translate(4.4,23.5)"><rect class="cb" width="43" height="9"/><path class="cy" d="M0,9H43"/><rect class="br" x="4" y="3.8" width="27" height="1.2"/></g>
<g transform="translate(4.4,34)"><rect class="cb" width="43" height="9"/><path class="cy" d="M0,9H43"/><rect class="br" x="4" y="3.8" width="31" height="1.2"/></g>
<g transform="translate(4.4,44.5)"><rect class="cb" width="43" height="9"/><path class="cy" d="M0,9H43"/><rect class="br" x="4" y="3.8" width="18" height="1.2"/></g>
</g>
<g id="G2" transform="translate(931.6,712)"><rect class="gf" width="52.4" height="57"/>
<g transform="translate(4.4,2.5)"><rect class="cb" width="43" height="9"/><path class="cy" d="M0,9H43"/><rect class="br" x="4" y="3.8" width="24" height="1.2"/></g>
<g transform="translate(4.4,13)"><rect class="cb" width="43" height="9"/><path class="cy" d="M0,9H43"/><rect class="br" x="4" y="3.8" width="28" height="1.2"/></g>
<g transform="translate(4.4,23.5)"><rect class="cb" width="43" height="9"/><path class="cy" d="M0,9H43"/><rect class="br" x="4" y="3.8" width="26" height="1.2"/></g>
<g transform="translate(4.4,34)"><rect class="cb" width="43" height="9"/><path class="cy" d="M0,9H43"/><rect class="br" x="4" y="3.8" width="31" height="1.2"/></g>
<g transform="translate(4.4,44.5)"><rect class="cb" width="43" height="9"/><path class="cy" d="M0,9H43"/><rect class="br" x="4" y="3.8" width="21" height="1.2"/></g>
</g>
<g id="bs1" transform="translate(982,648)"><rect class="bs" width="33" height="33"/><rect class="bsb" x="13.5" y="5" width="6" height="0.8"/><rect class="bsb" x="13.5" y="8" width="6" height="0.8"/><rect class="bsb" x="4" y="12" width="25" height="0.9"/><rect class="bsb" x="4" y="15" width="25" height="0.9"/><rect class="bsb" x="4" y="18" width="25" height="0.9"/><rect class="bsb" x="4" y="21" width="25" height="0.9"/><rect class="bsb" x="12" y="24" width="9" height="0.8"/></g>
</g>
</g>
</svg>
